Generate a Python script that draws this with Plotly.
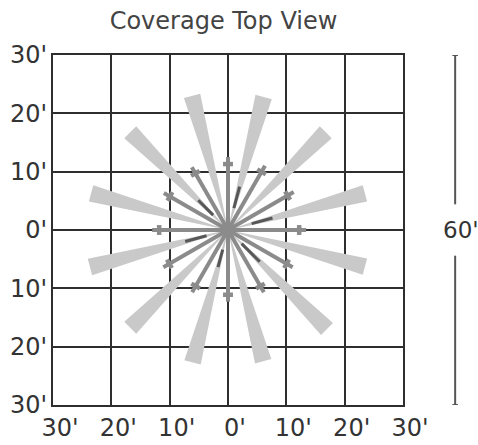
import math
import plotly.graph_objects as go

# ---- data (feet) ----
tick_vals = [-30, -20, -10, 0, 10, 20, 30]
tick_text = ["30'", "20'", "10'", "0'", "10'", "20'", "30'"]

wedge_angles = [15, 45, 75, 105, 135, 165, 195, 225, 255, 285, 315, 345]
wedge_lengths = [24.3, 23.7, 23.6, 23.8, 23.7, 24.3, 24.5, 23.7, 23.5, 23.3, 24.0, 24.3]
wedge_width = 2.9

bar_angles = [0, 30, 60, 90, 120, 150, 180, 210, 240, 270, 300, 330]
bar_lengths = [13.4, 13.0, 12.7, 12.5, 12.4, 12.7, 13.0, 12.8, 12.3, 12.3, 12.3, 12.8]

dark_angles = [15, 75, 135, 195, 255, 315]
dark_inner = [4.2, 3.9, 3.6, 3.8, 3.5, 3.3]
dark_outer = [7.9, 7.7, 7.2, 7.6, 6.6, 7.7]

span_label = "60'"
title_text = "Coverage Top View"

# ---- styles ----
LIGHT = "#c9c9c9"
MED = "#8b8b8b"
DARK = "#575757"
GRID = "#2e2e2e"
FONT = "DejaVu Sans"

fig = go.Figure()

# light tapered wedges
wx, wy = [], []
for a, L in zip(wedge_angles, wedge_lengths):
    r = math.radians(a)
    ux, uy = math.cos(r), math.sin(r)
    px, py = -uy, ux
    h = wedge_width / 2
    wx += [0, L * ux + h * px, L * ux - h * px, 0, None]
    wy += [0, L * uy + h * py, L * uy - h * py, 0, None]
fig.add_trace(go.Scatter(x=wx, y=wy, mode="lines", fill="toself",
                         fillcolor=LIGHT, line=dict(width=0, color=LIGHT),
                         hoverinfo="skip", showlegend=False))

# medium bars with cross caps
bx, by, cx, cy = [], [], [], []
cap_in, cap_half = 1.2, 0.85
for a, L in zip(bar_angles, bar_lengths):
    r = math.radians(a)
    ux, uy = math.cos(r), math.sin(r)
    px, py = -uy, ux
    bx += [0, L * ux, None]
    by += [0, L * uy, None]
    c = L - cap_in
    cx += [c * ux + cap_half * px, c * ux - cap_half * px, None]
    cy += [c * uy + cap_half * py, c * uy - cap_half * py, None]
fig.add_trace(go.Scatter(x=bx, y=by, mode="lines", line=dict(width=4, color=MED),
                         hoverinfo="skip", showlegend=False))
fig.add_trace(go.Scatter(x=cx, y=cy, mode="lines", line=dict(width=4.5, color=MED),
                         hoverinfo="skip", showlegend=False))

# dark short bars
dx, dy = [], []
for a, r0, r1 in zip(dark_angles, dark_inner, dark_outer):
    r = math.radians(a)
    ux, uy = math.cos(r), math.sin(r)
    dx += [r0 * ux, r1 * ux, None]
    dy += [r0 * uy, r1 * uy, None]
fig.add_trace(go.Scatter(x=dx, y=dy, mode="lines", line=dict(width=3, color=DARK),
                         hoverinfo="skip", showlegend=False))

axis_common = dict(
    range=[-30, 30], tickvals=tick_vals, ticktext=tick_text,
    showgrid=True, gridcolor=GRID, gridwidth=2,
    zeroline=True, zerolinecolor=GRID, zerolinewidth=2,
    showline=True, linecolor=GRID, linewidth=2, mirror=True,
    ticks="", tickfont=dict(family=FONT, size=24, color="#333333"),
    fixedrange=True, automargin=False,
)
fig.update_xaxes(**axis_common, ticklabelstandoff=0, ticklabelshift=7)
fig.update_yaxes(**axis_common, ticklabelstandoff=-1)

# dimension line for total span
lo, hi = tick_vals[0], tick_vals[-1]
gap = 4.4
xl = 1.149
for y0, y1 in [(hi, gap), (-gap, lo)]:
    fig.add_shape(type="line", xref="paper", yref="y", x0=xl, x1=xl, y0=y0, y1=y1,
                  line=dict(color="#555555", width=2))
for yv in [hi, lo]:
    fig.add_shape(type="line", xref="paper", yref="y", x0=xl - 0.008, x1=xl + 0.008,
                  y0=yv, y1=yv, line=dict(color="#555555", width=2))
fig.add_annotation(text=span_label, xref="paper", yref="y", x=1.108, y=0,
                   xanchor="left", yanchor="middle", showarrow=False,
                   font=dict(family=FONT, size=23, color="#333333"))

fig.update_layout(
    width=478, height=445,
    margin=dict(l=53, r=75, t=55, b=40),
    paper_bgcolor="white", plot_bgcolor="white",
    title=dict(text=title_text, x=0.4676, xanchor="center", y=0.953, yanchor="middle",
               xref="container", yref="container",
               font=dict(family=FONT, size=24, color="#444444")),
    showlegend=False,
)

fig.write_html("out.html", config={"displayModeBar": False},
               post_script="document.body.style.margin='0';")
